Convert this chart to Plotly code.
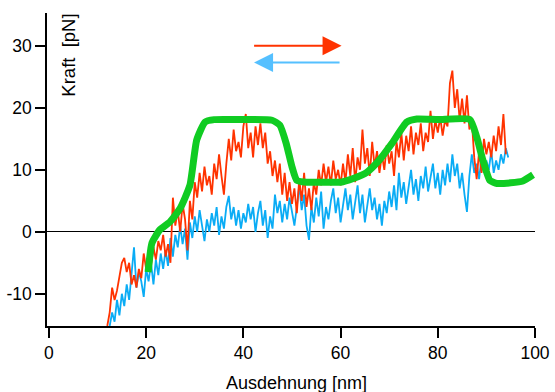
import plotly.graph_objects as go

# shared sampling grid (nm)
x_grid = [12.0, 12.5, 13.0, 13.5, 14.0, 14.5, 15.0, 15.5, 16.0, 16.5, 17.0, 17.5, 18.0, 18.5, 19.0, 19.5,
          20.0, 20.5, 21.0, 21.5, 22.0, 22.5, 23.0, 23.5, 24.0, 24.5, 25.0, 25.5, 26.0, 26.5, 27.0, 27.5,
          28.0, 28.5, 29.0, 29.5, 30.0, 30.5, 31.0, 31.5, 32.0, 32.5, 33.0, 33.5, 34.0, 34.5, 35.0, 35.5,
          36.0, 36.5, 37.0, 37.5, 38.0, 38.5, 39.0, 39.5, 40.0, 40.5, 41.0, 41.5, 42.0, 42.5, 43.0, 43.5,
          44.0, 44.5, 45.0, 45.5, 46.0, 46.5, 47.0, 47.5, 48.0, 48.5, 49.0, 49.5, 50.0, 50.5, 51.0, 51.5,
          52.0, 52.5, 53.0, 53.5, 54.0, 54.5, 55.0, 55.5, 56.0, 56.5, 57.0, 57.5, 58.0, 58.5, 59.0, 59.5,
          60.0, 60.5, 61.0, 61.5, 62.0, 62.5, 63.0, 63.5, 64.0, 64.5, 65.0, 65.5, 66.0, 66.5, 67.0, 67.5,
          68.0, 68.5, 69.0, 69.5, 70.0, 70.5, 71.0, 71.5, 72.0, 72.5, 73.0, 73.5, 74.0, 74.5, 75.0, 75.5,
          76.0, 76.5, 77.0, 77.5, 78.0, 78.5, 79.0, 79.5, 80.0, 80.5, 81.0, 81.5, 82.0, 82.5, 83.0, 83.5,
          84.0, 84.5, 85.0, 85.5, 86.0, 86.5, 87.0, 87.5, 88.0, 88.5, 89.0, 89.5, 90.0, 90.5, 91.0, 91.5,
          92.0, 92.5, 93.0, 93.5, 94.0, 94.5]

# extension trace (red), pN
red_force = [-15.2, -13, -9, -11, -9.5, -7, -5, -4.2, -6.5, -5, -8.5, -7, -9, -6, -7.5, -3.5,
             -6, -4, -5.5, -2.5, -4.5, -1.5, -3, -0.5, -4, -2, -5, 5.5, 1, 3.5, 0, 4.5,
             2, -3, 5, 2, 8, 5.5, 9.5, 6.5, 10.5, 7.5, 9, 6, 11, 8.5, 12.5, 9,
             6, 11, 15, 11.5, 16.5, 13, 14.5, 12, 17, 19, 13.5, 16, 12, 17, 14, 17.5,
             13.5, 16, 11, 13, 9, 11.5, 8, 11, 6, 9.5, 5, 8, 4.5, 7, 3, 8.5,
             5, 9.5, 4, 7, 3.5, 8, 6, 10, 7.5, 11, 8, 10.5, 7.5, 11.5, 8.5, 10,
             7.5, 11, 8, 12.5, 9, 13.5, 8, 12, 10, 16.5, 11, 13.5, 9, 14.5, 10.5, 13,
             9.5, 12.5, 10, 14, 11, 13, 9, 14.5, 12, 16, 11.5, 15.5, 13, 17, 12.5, 16,
             14, 17.5, 13, 16, 14.5, 19.5, 15, 18, 16, 18.5, 15.5, 18, 17, 24, 26, 20,
             23, 18, 21.5, 17.5, 22, 16.5, 18, 12, 8.5, 13, 9.5, 15, 12.5, 14.5, 12, 15.5,
             13, 17, 14, 19, 12.5, None]

# relaxation trace (blue), pN
blue_force = [None, -15.2, -13, -14.5, -11, -13.5, -10, -12, -8.5, -11, -7, -2.5, -9, -6.5, -8, -10.5,
              -6, -8, -5, -8.5, -4.5, -7, -3.5, -6, -3, -5.5, -1, -4, -0.5, -2.5, 1, -2,
              0.5, -4.5, 1.5, -1, 2.5, 0, 3.5, 1, -1.5, 2, 0, 3, 1, 4, -0.5, 2.5,
              0.5, 4, 5.8, 2, 4, 1, 3.5, 0.5, 3, 1.5, 4.5, 2, 4, 0, 3, 5,
              1, 3.5, -1, 2.5, 0.5, 6, 3, 5, 1.5, 4.5, 2, 5.5, 3, 1, 4, 7.5,
              3.5, 6, 1, -1.3, 4, 1.5, 5.5, 2.5, 6.5, 0.5, 4, 2, 5, 7, 3, 5.5,
              1.5, 4.5, 7, 3.5, 6, 2, 5, 7.5, 3, 6, 1.5, 4, 7, 3.5, 5.5, 2,
              4.5, 1, 5, 3, 6.5, 4, 7.5, 3.5, 9.5, 5.5, 8, 4.5, 7.5, 10, 6, 8.5,
              5, 9, 7, 10.5, 6.5, 9, 11, 7, 9.5, 6, 10, 7.5, 11, 8, 12.5, 9,
              11, 7, 9.5, 6, 3.2, 9, 12.5, 9.5, 11, 8.5, 12, 9.5, 11.5, 10, 13, 9.5,
              11.5, 10, 12.5, 11, 13.5, 12]

# model curve (green)
green_x = [20.4, 21.2, 22.8, 24.9, 27.0, 29.0, 30.4, 32.1, 34.0, 40.0, 45.9, 47.5, 48.8, 50.0, 51.0,
           53.0, 57.0, 60.0, 62.6, 65.4, 68.0, 70.6, 73.6, 75.7, 80.0, 86.6, 88.0, 89.3, 90.7, 92.2,
           95.0, 97.5, 99.6]
green_force = [-6.5, -1.8, 0.3, 1.6, 3.8, 7.5, 14.8, 17.7, 18.1, 18.1, 18.0, 17.2, 14.3, 10.5, 8.3,
               8.0, 8.0, 8.0, 8.6, 9.6, 11.6, 14.3, 17.7, 18.2, 18.1, 18.1, 15.3, 11.5, 8.3, 7.8,
               7.9, 8.2, 9.2]

x_ticks = [0, 20, 40, 60, 80, 100]
y_ticks = [-10, 0, 10, 20, 30]

FONT = "Liberation Sans, Arial, sans-serif"
RED = "#ff3300"
BLUE = "#0aacf5"
GREEN = "#10cc22"

fig = go.Figure()
fig.add_trace(go.Scatter(x=x_grid, y=blue_force, mode="lines",
                         line=dict(color=BLUE, width=1.8), connectgaps=False))
fig.add_trace(go.Scatter(x=x_grid, y=red_force, mode="lines",
                         line=dict(color=RED, width=1.8), connectgaps=False))
fig.add_trace(go.Scatter(x=green_x, y=green_force, mode="lines",
                         line=dict(color=GREEN, width=7, shape="spline", smoothing=0.5)))

fig.update_layout(
    width=555, height=392,
    margin=dict(l=47, r=20, t=13, b=66),
    paper_bgcolor="white", plot_bgcolor="white",
    showlegend=False,
    font=dict(family=FONT, size=17.5, color="black"),
    xaxis=dict(range=[-0.4, 100], tickvals=x_ticks, ticktext=[str(v) for v in x_ticks],
               showline=True, linecolor="black", linewidth=1.5, automargin=False,
               ticks="outside", ticklen=10, tickwidth=1.5, tickcolor="black",
               showgrid=False, zeroline=False, tickfont=dict(size=17.5)),
    yaxis=dict(range=[-15.2, 35.3], tickvals=y_ticks, ticktext=[str(v) for v in y_ticks],
               showline=True, linecolor="black", linewidth=1.5, automargin=False,
               ticks="outside", ticklen=10, tickwidth=1.5, tickcolor="black",
               showgrid=False, zeroline=True, zerolinecolor="black", zerolinewidth=1.3,
               tickfont=dict(size=17.5)),
    annotations=[
        dict(text="Ausdehnung [nm]", xref="paper", yref="paper", x=0.512, y=-0.182,
             xanchor="center", yanchor="middle", showarrow=False, font=dict(size=18)),
        dict(text="Kraft  [pN]", xref="paper", yref="paper", x=0.0445, y=0.866,
             xanchor="center", yanchor="middle", textangle=-90, showarrow=False,
             font=dict(size=18.5)),
        dict(x=60.2, y=30.0, ax=41.9, ay=30.0, xref="x", yref="y", axref="x", ayref="y",
             text="", showarrow=True, arrowhead=2, arrowsize=1.9, arrowwidth=2,
             arrowcolor=RED),
        dict(x=42.2, y=27.3, ax=60.1, ay=27.3, xref="x", yref="y", axref="x", ayref="y",
             text="", showarrow=True, arrowhead=2, arrowsize=1.9, arrowwidth=2,
             arrowcolor="#55c0ff"),
    ],
)

fig.write_html("out.html")
